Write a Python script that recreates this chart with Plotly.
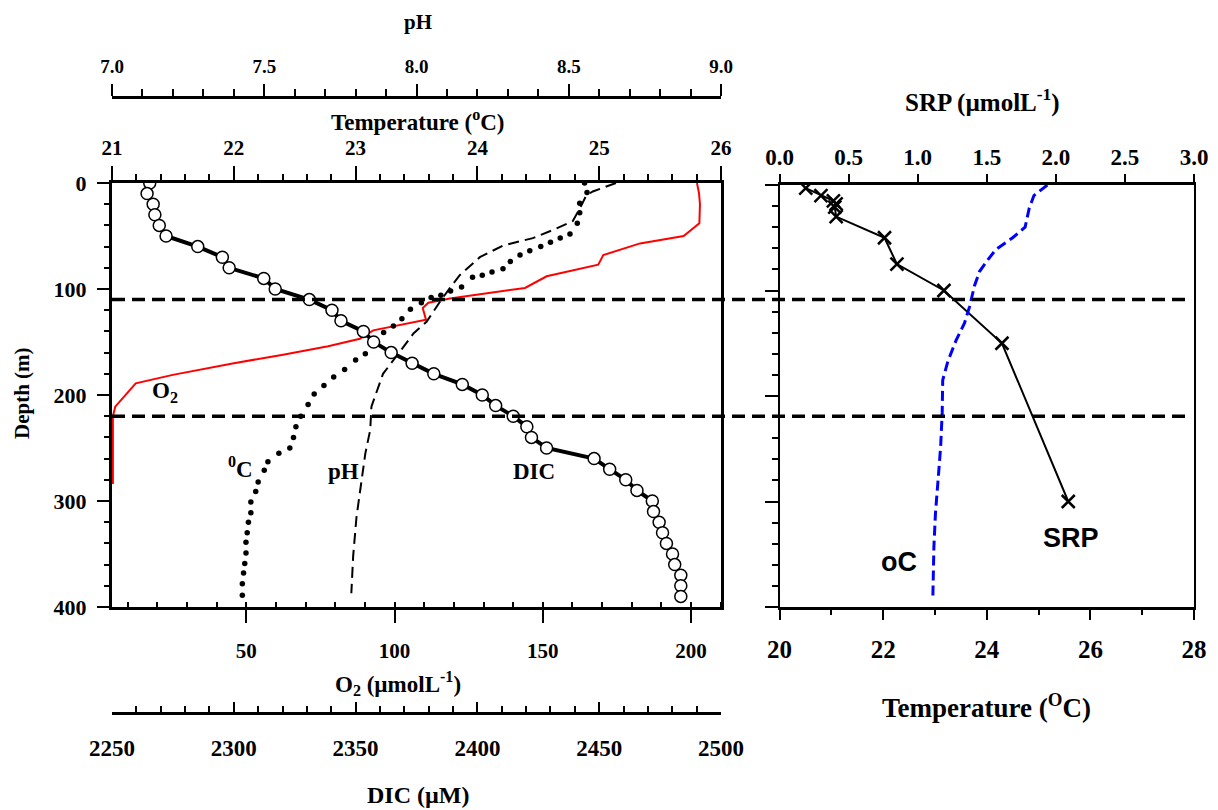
import plotly.graph_objects as go

W, H = 1218, 810


def px(x):
    return x / W


def py(y):
    return 1 - y / H


# ---------------- left panel: water-column profiles ----------------
dic_depth = [0, 10, 20, 30, 40, 50, 60, 70, 80, 90, 100, 110, 120, 130, 140,
             150, 160, 170, 180, 190, 200, 210, 220, 230, 240, 250, 260, 270,
             280, 290, 300, 310, 320, 330, 340, 350, 360, 370, 380, 390]
dic_um = [2265.5, 2264.4, 2266.9, 2267.6, 2269.4, 2272.2, 2285.2, 2295.3,
          2298.1, 2312.3, 2317.0, 2331.0, 2340.3, 2344.0, 2353.2, 2357.4,
          2364.6, 2373.2, 2382.1, 2393.8, 2402.0, 2407.5, 2414.7, 2420.3,
          2422.2, 2428.4, 2447.9, 2454.3, 2460.9, 2465.5, 2471.8, 2472.3,
          2474.6, 2476.0, 2477.6, 2480.1, 2481.0, 2483.5, 2483.5, 2483.5]

o2_depth = [0, 10, 20, 38, 50, 57, 68, 77, 88, 99, 109, 113, 118, 129, 139,
            147, 154, 162, 170, 181, 189, 198, 211, 220, 250, 284]
o2_umol = [202.0, 202.7, 203.0, 202.8, 197.5, 182.8, 170.4, 168.7, 151.3,
           144.0, 118.7, 111.4, 109.5, 110.6, 92.8, 88.3, 77.6, 62.4, 45.8,
           25.2, 12.7, 10.0, 5.8, 5.0, 5.0, 5.0]

temp_depth = [0, 9, 19, 28, 38, 48, 52, 56, 60, 64, 68, 74, 81, 84, 87, 89,
              98, 102, 106, 108, 113, 119, 128, 135, 141, 151, 161, 167, 176,
              183, 191, 199, 209, 220, 230, 240, 250, 255, 263, 271, 282, 291,
              301, 311, 320, 330, 339, 349, 359, 368, 378, 389]
temp_c = [24.88, 24.90, 24.84, 24.84, 24.82, 24.76, 24.68, 24.60, 24.52,
          24.43, 24.35, 24.27, 24.21, 24.12, 24.04, 23.96, 23.87, 23.78,
          23.70, 23.62, 23.54, 23.45, 23.38, 23.31, 23.23, 23.15, 23.08,
          23.00, 22.91, 22.82, 22.74, 22.66, 22.61, 22.55, 22.51, 22.49,
          22.46, 22.37, 22.28, 22.25, 22.20, 22.18, 22.14, 22.14, 22.12,
          22.11, 22.10, 22.10, 22.09, 22.08, 22.07, 22.07]

ph_depth = [0, 8, 12, 22, 36, 43, 52, 59, 70, 87, 99, 112, 131, 142, 159,
            180, 211, 233, 255, 283, 315, 352, 387]
ph_val = [8.655, 8.579, 8.557, 8.540, 8.513, 8.459, 8.382, 8.284, 8.208,
          8.142, 8.110, 8.077, 8.033, 7.990, 7.946, 7.890, 7.852, 7.848,
          7.832, 7.819, 7.803, 7.792, 7.786]

# ---------------- right panel: phosphate and temperature ----------------
srp_depth = [3, 10, 15, 18, 21, 30, 50, 75, 100, 150, 300]
srp_umol = [0.19, 0.30, 0.39, 0.41, 0.40, 0.41, 0.76, 0.85, 1.19, 1.61, 2.09]

temp2_depth = [0, 10, 22, 40, 50, 61, 71, 82, 96, 115, 131, 147, 167, 185,
               216, 248, 280, 311, 343, 390]
temp2_c = [25.17, 24.91, 24.82, 24.74, 24.50, 24.18, 24.02, 23.86, 23.76,
           23.67, 23.57, 23.41, 23.25, 23.15, 23.14, 23.11, 23.06, 23.01,
           22.98, 22.96]

depth_ticks = [0, 100, 200, 300, 400]
layer_depths = [110, 220]

SERIF = "Liberation Serif"
SANS = "Liberation Sans"


def sfont(size):
    return dict(family=SERIF, size=size, color="black", weight="bold")


L_DOM = [px(112), px(721)]
R_DOM = [px(779.5), px(1194)]

fig = go.Figure()

# O2 (bottom axis of the left panel)
fig.add_trace(go.Scatter(x=o2_umol, y=o2_depth, xaxis="x", yaxis="y",
                         mode="lines", line=dict(color="#ff0000", width=2),
                         showlegend=False))
# temperature (top axis)
fig.add_trace(go.Scatter(x=temp_c, y=temp_depth, xaxis="x2", yaxis="y",
                         mode="markers",
                         marker=dict(color="black", size=5.5),
                         showlegend=False))
# pH (upper free axis)
fig.add_trace(go.Scatter(x=ph_val, y=ph_depth, xaxis="x3", yaxis="y",
                         mode="lines",
                         line=dict(color="black", width=2, dash="11px,6px"),
                         showlegend=False))
# DIC (lower free axis)
fig.add_trace(go.Scatter(x=dic_um, y=dic_depth, xaxis="x4", yaxis="y",
                         mode="lines+markers",
                         line=dict(color="black", width=4),
                         marker=dict(symbol="circle", size=12, color="white",
                                     line=dict(color="black", width=1.5)),
                         showlegend=False))
# SRP
fig.add_trace(go.Scatter(x=srp_umol, y=srp_depth, xaxis="x5", yaxis="y2",
                         mode="lines+markers",
                         line=dict(color="black", width=2),
                         marker=dict(symbol="x-thin", size=13,
                                     line=dict(color="black", width=2.5)),
                         showlegend=False))
# temperature, right panel
fig.add_trace(go.Scatter(x=temp2_c, y=temp2_depth, xaxis="x6", yaxis="y2",
                         mode="lines",
                         line=dict(color="#0000ff", width=3, dash="10px,5px"),
                         showlegend=False))

common = dict(showgrid=False, zeroline=False, linecolor="black",
              tickcolor="black", showline=True, automargin=False)

fig.update_layout(
    template="none",
    width=W, height=H, autosize=False,
    margin=dict(l=0, r=0, t=0, b=0, pad=0),
    paper_bgcolor="white", plot_bgcolor="white",
    xaxis=dict(domain=L_DOM, range=[4.7, 210.1], anchor="y", side="bottom",
               tick0=0, dtick=50, ticks="outside", ticklen=13, tickwidth=1.5,
               minor=dict(tick0=0, dtick=10, ticks="inside", ticklen=5,
                          tickwidth=1.5, tickcolor="black"),
               linewidth=3, tickfont=sfont(21), ticklabelstandoff=10,
               **common),
    xaxis2=dict(domain=L_DOM, range=[21, 26], overlaying="x", anchor="y",
                side="top", dtick=1, ticks="outside", ticklen=14,
                tickwidth=1.5,
                minor=dict(dtick=0.2, ticks="outside", ticklen=6,
                           tickwidth=1.5, tickcolor="black"),
                linewidth=3, tickfont=sfont(21), ticklabelstandoff=3,
                **common),
    xaxis3=dict(domain=L_DOM, range=[7, 9], overlaying="x", anchor="free",
                position=py(97), side="top", dtick=0.5, tickformat=".1f",
                ticks="outside", ticklen=12, tickwidth=1.5,
                minor=dict(dtick=0.1, ticks="outside", ticklen=7,
                           tickwidth=1.5, tickcolor="black"),
                linewidth=3, tickfont=sfont(19), ticklabelstandoff=3,
                **common),
    xaxis4=dict(domain=L_DOM, range=[2250, 2500], overlaying="x",
                anchor="free", position=py(713), side="bottom", dtick=50,
                ticks="inside", ticklen=10, tickwidth=1.5,
                minor=dict(dtick=10, ticks="inside", ticklen=6,
                           tickwidth=1.5, tickcolor="black"),
                linewidth=3, tickfont=sfont(23), ticklabelstandoff=13,
                **common),
    yaxis=dict(domain=[py(607), py(183)], range=[400, 0], anchor="x",
               tickvals=depth_ticks, ticks="outside", ticklen=12,
               tickwidth=1.5,
               minor=dict(dtick=20, ticks="outside", ticklen=5,
                          tickwidth=1.5, tickcolor="black"),
               linewidth=3, mirror=True, tickfont=sfont(22),
               ticklabelstandoff=6, **common),
    xaxis5=dict(domain=R_DOM, range=[0, 3], anchor="y2", side="top",
                dtick=0.5, tickformat=".1f", ticks="outside", ticklen=8,
                tickwidth=1.5, linewidth=3, tickfont=sfont(23),
                ticklabelstandoff=0, **common),
    xaxis6=dict(domain=R_DOM, range=[20, 28], overlaying="x5", anchor="y2",
                side="bottom", dtick=2, ticks="outside", ticklen=10,
                tickwidth=1.5,
                minor=dict(dtick=1, ticks="outside", ticklen=5,
                           tickwidth=1.5, tickcolor="black"),
                linewidth=3, tickfont=sfont(25), ticklabelstandoff=8,
                **common),
    yaxis2=dict(domain=[py(607), py(185)], range=[400, 0], anchor="x5",
                tickvals=depth_ticks, showticklabels=False, ticks="outside",
                ticklen=13, tickwidth=1.5,
                minor=dict(dtick=20, ticks="outside", ticklen=6,
                           tickwidth=1.5, tickcolor="black"),
                linewidth=2, mirror=True, **common),
)

# boundary depths running across both panels
for d in layer_depths:
    fig.add_shape(type="line", xref="paper", yref="y",
                  x0=px(112), x1=px(1188), y0=d, y1=d,
                  line=dict(color="black", width=3.5, dash="13px,7px"))


def label(text, x, y, size, family=SERIF, angle=0):
    fig.add_annotation(text=text, x=px(x), y=py(y), xref="paper",
                       yref="paper", showarrow=False, xanchor="center",
                       yanchor="middle", textangle=angle,
                       font=dict(family=family, size=size, color="black",
                                 weight="bold"))


# axis titles
label("pH", 418, 22, 21)
label("Temperature (<sup>o</sup>C)", 418, 121, 23)
label("O<sub>2</sub> (µmolL<sup>-1</sup>)", 398, 683, 23)
label("DIC (µM)", 418, 795, 24)
label("Depth (m)", 22, 393, 21, angle=-90)
label("SRP (µmolL<sup>-1</sup>)", 982, 101, 25)
label("Temperature (<sup>O</sup>C)", 986, 706, 27)

# curve labels
label("O<sub>2</sub>", 165, 392, 23)
label("<sup>0</sup>C", 240, 468, 23)
label("pH", 343, 471, 23)
label("DIC", 534, 471, 23)
label("oC", 899, 562, 27, family=SANS)
label("SRP", 1071, 538, 27, family=SANS)

fig.write_html("out.html")
